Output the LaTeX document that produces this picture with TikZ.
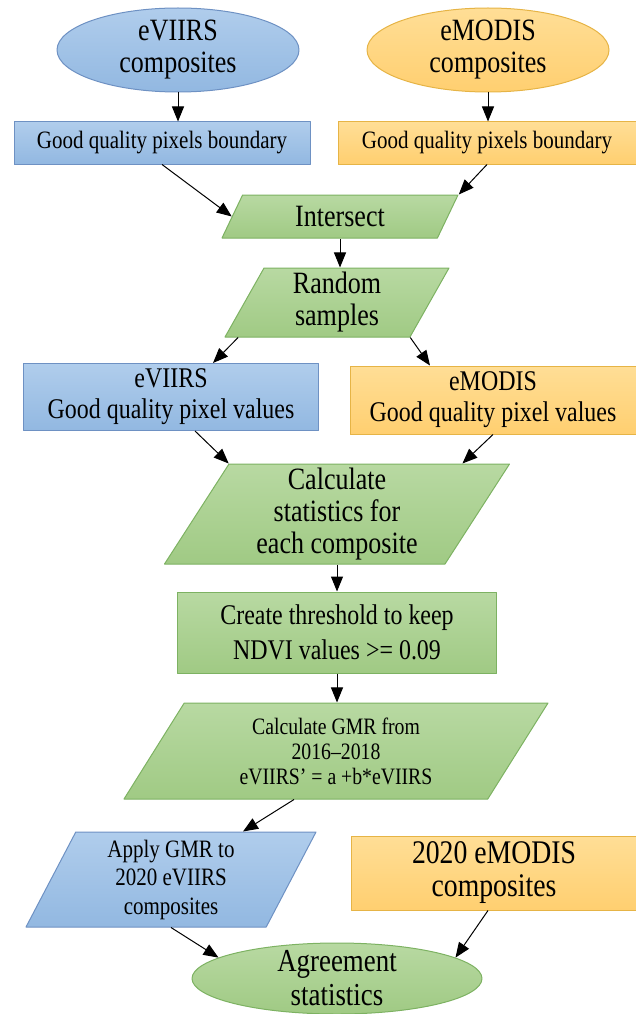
\documentclass[tikz,border=0pt]{standalone}
\usepackage{fontspec}
\setmainfont[FakeStretch=0.84]{Liberation Serif}
\usetikzlibrary{shapes.geometric,arrows.meta}

\definecolor{bluetop}{RGB}{176,205,236}
\definecolor{bluebot}{RGB}{146,184,225}
\definecolor{blueline}{RGB}{110,145,195}
\definecolor{orangetop}{RGB}{255,222,150}
\definecolor{orangebot}{RGB}{255,207,112}
\definecolor{orangeline}{RGB}{230,180,70}
\definecolor{greentop}{RGB}{184,217,162}
\definecolor{greenbot}{RGB}{160,202,132}
\definecolor{greenline}{RGB}{125,178,98}

\begin{document}
\begin{tikzpicture}[
    x = 1pt, y = -1pt,
    line join=round,
    bluestyle/.style = {draw=blueline, line width=1pt, top color=bluetop, bottom color=bluebot},
    orangestyle/.style = {draw=orangeline, line width=1pt, top color=orangetop, bottom color=orangebot},
    greenstyle/.style = {draw=greenline, line width=1pt, top color=greentop, bottom color=greenbot},
    box/.style = {rectangle, inner sep=0pt, align=center},
    oval/.style = {ellipse, inner sep=0pt, inner ysep=-5pt, align=center},
    para/.style = {trapezium, trapezium stretches body, inner sep=0pt, align=center},
    arr/.style = {-{Triangle[length=15pt, width=12pt]}, line width=1pt},
    smalltxt/.style = {font=\fontsize{25}{30}\selectfont},
    midtxt/.style = {font=\fontsize{28.5}{31}\selectfont},
    bigtxt/.style = {font=\fontsize{31}{32}\selectfont}
]

\useasboundingbox (0,0) rectangle (636,1014);

\node[oval, bluestyle, bigtxt, minimum width=242pt, minimum height=84pt] (ev) at (178,50) {eVIIRS\\composites};
\node[oval, orangestyle, bigtxt, minimum width=242pt, minimum height=84pt] (em) at (488,50) {eMODIS\\composites};

\node[box, bluestyle, smalltxt, minimum width=296pt, minimum height=42pt] (gq1) at (162,143) {Good quality pixels boundary};
\node[box, orangestyle, smalltxt, minimum width=298pt, minimum height=42pt] (gq2) at (487,143) {Good quality pixels boundary};

\node[para, greenstyle, bigtxt, trapezium left angle=45, trapezium right angle=135, minimum width=236pt, minimum height=43pt] (isect) at (340,216.5) {Intersect};
\node[para, greenstyle, bigtxt, trapezium left angle=57, trapezium right angle=123, minimum width=224pt, minimum height=69pt] (rs) at (337,302.5) {Random\\samples};

\node[box, bluestyle, midtxt, minimum width=295pt, minimum height=67pt] (vals1) at (171,397) {eVIIRS\\Good quality pixel values};
\node[box, orangestyle, midtxt, minimum width=286pt, minimum height=68pt] (vals2) at (493,400) {eMODIS\\Good quality pixel values};

\node[para, greenstyle, bigtxt, trapezium left angle=55, trapezium right angle=125, minimum width=345pt, minimum height=100pt] (stats) at (337,514) {Calculate\\statistics for\\each composite};
\node[box, greenstyle, font=\fontsize{28.5}{35}\selectfont, minimum width=319pt, minimum height=81pt] (thr) at (337,632.5) {Create threshold to keep\\NDVI values >= 0.09};
\node[para, greenstyle, font=\fontsize{23.5}{25}\selectfont, trapezium left angle=48, trapezium right angle=132, minimum width=424pt, minimum height=96pt] (gmr) at (336,751) {Calculate GMR from\\2016–2018\\eVIIRS’ = a +b*eVIIRS};

\node[para, bluestyle, font=\fontsize{25}{28.5}\selectfont, trapezium left angle=58, trapezium right angle=122, minimum width=290pt, minimum height=95pt] (apply) at (171,879.5) {Apply GMR to\\2020 eVIIRS\\composites};
\node[box, orangestyle, font=\fontsize{33}{33}\selectfont, minimum width=285pt, minimum height=74pt] (mod20) at (494,873) {2020 eMODIS\\composites};

\node[oval, greenstyle, font=\fontsize{32}{34}\selectfont, inner ysep=-9pt, minimum width=290pt, minimum height=71pt] (agree) at (337,978.5) {Agreement\\statistics};

\draw[arr] (ev.south) -- (ev.south |- gq1.north);
\draw[arr] (em.south) -- (em.south |- gq2.north);
\draw[arr] (gq1.south) -- (isect.left side);
\draw[arr] (gq2.south) -- (isect.top right corner);
\draw[arr] (isect.south) -- (isect.south |- rs.north);
\draw[arr] ([xshift=14pt]rs.bottom left corner) -- ([xshift=42pt]vals1.north);
\draw[arr] (rs.bottom right corner) -- ([xshift=-63pt]vals2.north);
\draw[arr] ([xshift=24pt]vals1.south) -- (stats.top left corner);
\draw[arr] (vals2.south) -- ([xshift=-48pt]stats.top right corner);
\draw[arr] (stats.south) -- (stats.south |- thr.north);
\draw[arr] (thr.south) -- (thr.south |- gmr.north);
\draw[arr] ([xshift=-42pt]gmr.south) -- ([xshift=72pt]apply.north);
\draw[arr] (apply.south) -- (agree.170);
\draw[arr] ([xshift=-6pt]mod20.south) -- (agree.10);

\end{tikzpicture}
\end{document}
